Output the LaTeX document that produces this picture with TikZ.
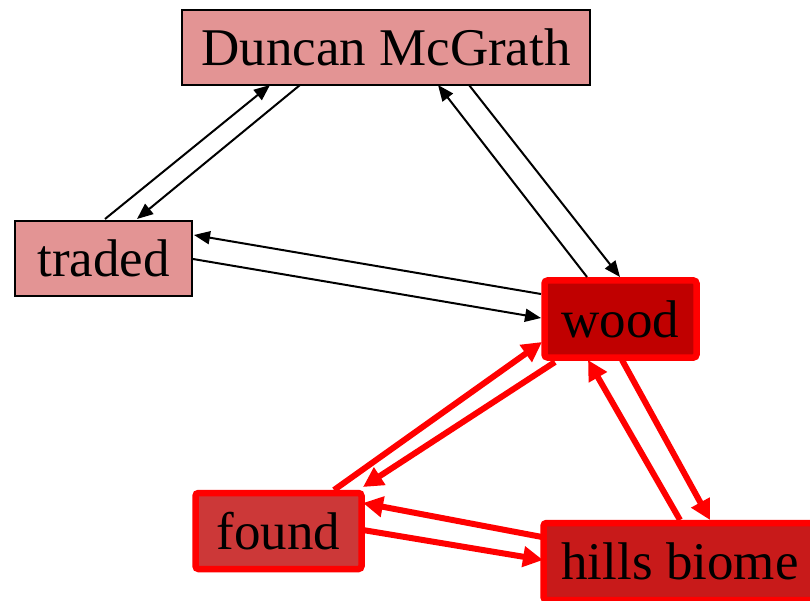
\documentclass[tikz,border=0pt]{standalone}
\usepackage{fontspec}
\setmainfont{Liberation Serif}
\usetikzlibrary{arrows.meta,calc}
\definecolor{pinkfill}{HTML}{E39494}
\definecolor{woodfill}{HTML}{C00000}
\definecolor{foundfill}{HTML}{CC3838}
\definecolor{hillsfill}{HTML}{C81A1A}
\definecolor{edgered}{HTML}{FF0000}
\begin{document}
\begin{tikzpicture}[x=1pt,y=-1pt,
  lightbox/.style={draw=black,line width=2pt,fill=pinkfill,inner sep=0pt,outer sep=0pt,font=\fontsize{53}{60}\selectfont},
  redbox/.style={draw=edgered,line width=6.5pt,rounded corners=3pt,inner sep=0pt,outer sep=0pt,font=\fontsize{53}{60}\selectfont},
  blackarrow/.style={draw=black,line width=2pt,-{Triangle[length=16pt,width=13pt]}},
  redarrow/.style={draw=edgered,line width=6pt,-{Triangle[length=20pt,width=20pt]}}]
\useasboundingbox (0,0) rectangle (810,601);
\node[lightbox,minimum width=408pt,minimum height=75pt] (duncan) at (386,47.5) {Duncan McGrath};
\node[lightbox,minimum width=177pt,minimum height=75pt] (traded) at (103.5,258.5) {traded};
\node[redbox,fill=woodfill,minimum width=152pt,minimum height=77pt] (wood) at (620.5,319) {wood};
\node[redbox,fill=foundfill,minimum width=166pt,minimum height=76pt] (found) at (278.5,531) {found};
\node[redbox,fill=hillsfill,minimum width=273pt,minimum height=77pt] (hills) at (680,561.5) {hills biome};
% black edges
\draw[blackarrow] ($(traded.north)+(1.5,-2)$) -- ($(duncan.south)+(-116,0)$);
\draw[blackarrow] ($(duncan.south)+(-86,0)$) -- ($(traded.north)+(33.5,-2)$);
\draw[blackarrow] ($(wood.north)+(-33.5,-3.5)$) -- ($(duncan.south)+(52,0)$);
\draw[blackarrow] ($(duncan.south)+(83,0)$) -- ($(wood.north)+(-0.5,-3.5)$);
\draw[blackarrow] ($(wood.west)+(-3.5,-25)$) -- ($(traded.east)+(2,-23.5)$);
\draw[blackarrow] ($(traded.east)+(1,0.5)$) -- ($(wood.west)+(-3.5,-1)$);
% red edges
\draw[redarrow] ($(found.north)+(55.5,-3)$) -- ($(wood.west)+(-2.5,23)$);
\draw[redarrow] ($(wood.south)+(-65.5,4.5)$) -- ($(found.north east)+(1.5,-6)$);
\draw[redarrow] ($(hills.north west)+(-1.5,14)$) -- ($(found.east)+(1.5,-28)$);
\draw[redarrow] ($(found.east)+(1.5,-1)$) -- ($(hills.west)+(-0.5,-1.5)$);
\draw[redarrow] ($(hills.north)+(0,-3)$) -- ($(wood.south)+(-32.5,2.5)$);
\draw[redarrow] ($(wood.south)+(1.5,2.5)$) -- ($(hills.north)+(30,-3)$);
\end{tikzpicture}
\end{document}
